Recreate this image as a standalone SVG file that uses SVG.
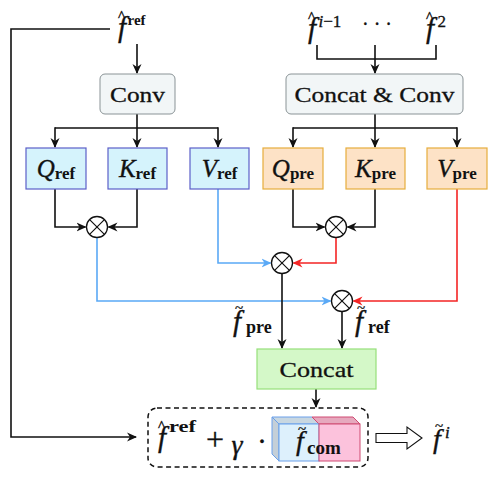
<svg xmlns="http://www.w3.org/2000/svg" width="498" height="485" viewBox="0 0 498 485">
<style>
.ln{fill:none;stroke:#111;stroke-width:1.6}
.bl{fill:none;stroke:#5aa9f6;stroke-width:1.6}
.rd{fill:none;stroke:#f42525;stroke-width:1.6}
.conv{fill:#f2f6f7;stroke:#8a9396;stroke-width:1}
.ref{fill:#d5f3fc;stroke:#5c5fc8;stroke-width:1.2}
.pre{fill:#fde2c6;stroke:#e6ad3c;stroke-width:1.2}
.cat{fill:#d4f8c8;stroke:#96e07a;stroke-width:1.2}
.ot{fill:#fff;stroke:#111;stroke-width:1.3}
.t{font-family:"Liberation Serif","DejaVu Serif",serif;fill:#111;stroke:#111;stroke-width:0.3}
.m{font-family:"Liberation Serif","DejaVu Serif",serif;font-style:italic;fill:#111;stroke:#111;stroke-width:0.35}
.b{font-family:"Liberation Serif","DejaVu Serif",serif;font-weight:bold;font-style:normal;fill:#111;stroke:none}
.hat{font-family:"Liberation Serif","DejaVu Serif",serif;fill:#111;text-anchor:middle;font-size:15px;stroke:#111;stroke-width:0.4}
.tl{font-family:"Liberation Serif","DejaVu Serif",serif;fill:#111;text-anchor:middle;font-size:15px;stroke:#111;stroke-width:0.3}
</style>
<defs>
<marker id="ak" markerUnits="userSpaceOnUse" markerWidth="10" markerHeight="10" viewBox="0 0 10 10" refX="9" refY="5" orient="auto"><path d="M0,0.5 L10,5 L0,9.5 L3,5 z" fill="#111"/></marker>
<marker id="ab" markerUnits="userSpaceOnUse" markerWidth="10" markerHeight="10" viewBox="0 0 10 10" refX="9" refY="5" orient="auto"><path d="M0,0.5 L10,5 L0,9.5 L3,5 z" fill="#5aa9f6"/></marker>
<marker id="ar" markerUnits="userSpaceOnUse" markerWidth="10" markerHeight="10" viewBox="0 0 10 10" refX="9" refY="5" orient="auto"><path d="M0,0.5 L10,5 L0,9.5 L3,5 z" fill="#f42525"/></marker>
<symbol id="otimes" viewBox="-11 -11 22 22" overflow="visible"><circle r="10.5" class="ot"/><path d="M-7.4,-7.4 L7.4,7.4 M-7.4,7.4 L7.4,-7.4" stroke="#111" stroke-width="1.2"/></symbol>
</defs>

<g id="connectors">
<path class="ln" d="M110,29 H11 V437 H136" marker-end="url(#ak)"/>
<path class="ln" d="M137,44 V73" marker-end="url(#ak)"/>
<path class="ln" d="M137,114 V128 M55,128 H218"/>
<path class="ln" d="M55,127.2 V147" marker-end="url(#ak)"/>
<path class="ln" d="M137,128 V147" marker-end="url(#ak)"/>
<path class="ln" d="M218,127.2 V147" marker-end="url(#ak)"/>
<path class="ln" d="M317,45 V59 H436 V45"/>
<path class="ln" d="M375,45 V73" marker-end="url(#ak)"/>
<path class="ln" d="M375,114 V128 M293,128 H457"/>
<path class="ln" d="M293,127.2 V147" marker-end="url(#ak)"/>
<path class="ln" d="M375,128 V147" marker-end="url(#ak)"/>
<path class="ln" d="M457,127.2 V147" marker-end="url(#ak)"/>
<path class="ln" d="M55,189 V227 H85.5" marker-end="url(#ak)"/>
<path class="ln" d="M137,189 V227 H108.5" marker-end="url(#ak)"/>
<path class="ln" d="M293,189 V227 H324.5" marker-end="url(#ak)"/>
<path class="ln" d="M375,189 V227 H347.5" marker-end="url(#ak)"/>
<path class="bl" d="M218,189 V263 H270.5" marker-end="url(#ab)"/>
<path class="bl" d="M97,238 V301 H330.5" marker-end="url(#ab)"/>
<path class="rd" d="M336,238 V263 H293.5" marker-end="url(#ar)"/>
<path class="rd" d="M457,189 V301 H353.5" marker-end="url(#ar)"/>
<path class="ln" d="M282,274 V348" marker-end="url(#ak)"/>
<path class="ln" d="M342,312 V348" marker-end="url(#ak)"/>
<path class="ln" d="M316,389 V407" marker-end="url(#ak)"/>
</g>

<g id="mul1"><use href="#otimes" x="86" y="216" width="22" height="22"/></g>
<g id="mul2"><use href="#otimes" x="325" y="216" width="22" height="22"/></g>
<g id="mul3"><use href="#otimes" x="271" y="252" width="22" height="22"/></g>
<g id="mul4"><use href="#otimes" x="331" y="290" width="22" height="22"/></g>

<g id="f-ref-in">
<text x="118" y="37" class="m" font-size="29">f</text>
<text x="121.5" y="21" class="hat">^</text>
<text x="127.5" y="25" class="b" font-size="15">ref</text>
</g>
<g id="f-prev">
<text x="308" y="38" class="m" font-size="29">f</text>
<text x="311.5" y="22" class="hat">^</text>
<text x="318.5" y="27" class="m" font-size="17">i<tspan font-style="normal">−1</tspan></text>
<text x="362" y="31" class="t" font-size="20">· · ·</text>
<text x="426" y="38" class="m" font-size="29">f</text>
<text x="429.5" y="22" class="hat">^</text>
<text x="437.5" y="27" class="t" font-size="17">2</text>
</g>

<g id="conv">
<rect x="100" y="74" width="75" height="40" rx="5" class="conv"/>
<text x="137.5" y="102" class="t" font-size="22" text-anchor="middle" textLength="55" lengthAdjust="spacingAndGlyphs">Conv</text>
</g>
<g id="concat-conv">
<rect x="286" y="74" width="177" height="40" rx="5" class="conv"/>
<text x="374.5" y="102" class="t" font-size="22" text-anchor="middle" textLength="160" lengthAdjust="spacingAndGlyphs">Concat &amp; Conv</text>
</g>

<g id="q-ref">
<rect x="26" y="148" width="60" height="41" class="ref"/>
<text x="56" y="177" class="m" font-size="25" text-anchor="middle">Q<tspan class="b" font-size="17" dy="2">ref</tspan></text>
</g>
<g id="k-ref">
<rect x="108" y="148" width="59" height="41" class="ref"/>
<text x="137.5" y="177" class="m" font-size="25" text-anchor="middle">K<tspan class="b" font-size="17" dy="2">ref</tspan></text>
</g>
<g id="v-ref">
<rect x="190" y="148" width="59" height="41" class="ref"/>
<text x="219.5" y="177" class="m" font-size="25" text-anchor="middle">V<tspan class="b" font-size="17" dy="2">ref</tspan></text>
</g>
<g id="q-pre">
<rect x="263" y="148" width="60" height="41" class="pre"/>
<text x="293" y="177" class="m" font-size="25" text-anchor="middle">Q<tspan class="b" font-size="17" dy="2">pre</tspan></text>
</g>
<g id="k-pre">
<rect x="346" y="148" width="59" height="41" class="pre"/>
<text x="375.5" y="177" class="m" font-size="25" text-anchor="middle">K<tspan class="b" font-size="17" dy="2">pre</tspan></text>
</g>
<g id="v-pre">
<rect x="427" y="148" width="60" height="41" class="pre"/>
<text x="457" y="177" class="m" font-size="25" text-anchor="middle">V<tspan class="b" font-size="17" dy="2">pre</tspan></text>
</g>

<g id="labels">
<text x="233" y="331" class="m" font-size="29">f</text>
<text x="239" y="312.5" class="tl">~</text>
<text x="246" y="333" class="b" font-size="18">pre</text>
<text x="355" y="331" class="m" font-size="29">f</text>
<text x="361" y="312.5" class="tl">~</text>
<text x="368" y="333" class="b" font-size="18">ref</text>
</g>

<g id="concat">
<rect x="257" y="349" width="119" height="40" class="cat"/>
<text x="316.5" y="377" class="t" font-size="22" text-anchor="middle" textLength="74" lengthAdjust="spacingAndGlyphs">Concat</text>
</g>

<g id="fusion">
<rect x="148" y="408" width="220" height="59" rx="9" fill="none" stroke="#111" stroke-width="1.5" stroke-dasharray="5,3.5"/>
<text x="158" y="447" class="m" font-size="29">f</text>
<text x="161.5" y="431" class="hat">^</text>
<text x="169" y="432" class="b" font-size="17" textLength="27" lengthAdjust="spacingAndGlyphs">ref</text>
<text x="215" y="450" class="t" font-size="32" text-anchor="middle">+</text>
<text x="237" y="454" class="m" font-size="28" text-anchor="middle">γ</text>
<text x="262" y="451" class="t" font-size="30" text-anchor="middle">·</text>
<path d="M272,417 L279,424 L279,461 L272,454 Z" fill="#c4cfd8" stroke="#6aa0ea" stroke-width="1"/>
<path d="M272,417 L312,417 L319,424 L279,424 Z" fill="#c8d7e1" stroke="#6aa0ea" stroke-width="1"/>
<path d="M312,417 L353,417 L360,424 L319,424 Z" fill="#e6a9be" stroke="#d04a72" stroke-width="1"/>
<rect x="279" y="424" width="40" height="37" fill="#ddf0fc" stroke="#6aa0ea" stroke-width="1"/>
<rect x="319" y="424" width="41" height="37" fill="#fcc2dc" stroke="#d04a72" stroke-width="1"/>
<text x="296" y="450" class="m" font-size="28">f</text>
<text x="302" y="434" class="tl">~</text>
<text x="307" y="454" class="b" font-size="19">com</text>
</g>

<g id="result">
<path d="M376,433.5 H407 V427 L422,438 L407,449 V442.5 H376 Z" fill="#fff" stroke="#111" stroke-width="1.1"/>
<text x="433" y="448" class="m" font-size="28">f</text>
<text x="439" y="431" class="tl">~</text>
<text x="445" y="438" class="m" font-size="17">i</text>
</g>
</svg>
